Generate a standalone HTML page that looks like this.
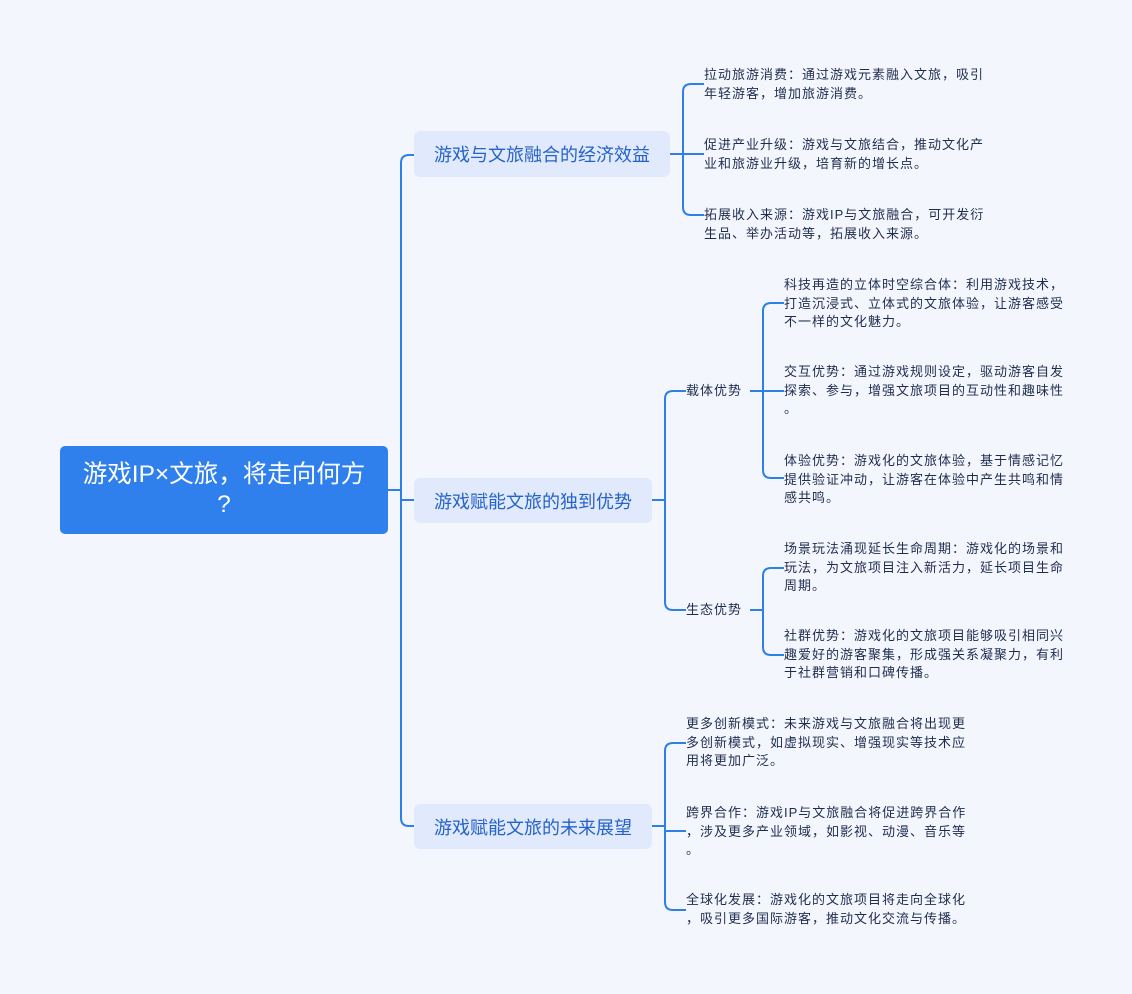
<!DOCTYPE html>
<html><head><meta charset="utf-8"><style>
body{margin:0;width:1132px;height:994px;background:#f4f6fe;position:relative;overflow:hidden;font-family:"Liberation Sans","Noto Sans CJK SC",sans-serif;}
.t{position:absolute;font-size:13px;letter-spacing:1px;line-height:18.7px;color:#1f2d4d;white-space:nowrap;}
.n{position:absolute;background:#e1e9fd;border-radius:6px;color:#2563c9;font-size:18px;display:flex;align-items:center;justify-content:center;}
.root{position:absolute;left:60px;top:446px;width:328px;height:88px;background:#2f80ed;border-radius:5px;color:#fff;font-size:24.5px;line-height:30px;text-align:center;display:flex;align-items:center;justify-content:center;}
svg{position:absolute;left:0;top:0}
</style></head><body>
<svg width="1132" height="994" fill="none" stroke="#2f7fe8" stroke-width="2">
<path d="M388 490H401"/>
<path d="M414 155H409Q401 155 401 163V818Q401 826 409 826H414"/>
<path d="M401 500H414"/>
<path d="M670 154H683"/>
<path d="M704 84H691Q683 84 683 92V207Q683 215 691 215H704"/>
<path d="M683 154H704"/>
<path d="M652 500H665"/>
<path d="M686 391H673Q665 391 665 399V602Q665 610 673 610H686"/>
<path d="M750 391H763"/>
<path d="M784 303H771Q763 303 763 311V470Q763 478 771 478H784"/>
<path d="M763 391H784"/>
<path d="M750 610H763"/>
<path d="M784 568H771Q763 568 763 576V647Q763 655 771 655H784"/>
<path d="M652 826H665"/>
<path d="M686 743H673Q665 743 665 751V902Q665 910 673 910H686"/>
<path d="M665 831H686"/>
</svg>
<div class="root">游戏IP×文旅，将走向何方<br>?</div>
<div class="n" style="left:414px;top:131px;width:256px;height:46px">游戏与文旅融合的经济效益</div>
<div class="n" style="left:414px;top:478px;width:238px;height:45px">游戏赋能文旅的独到优势</div>
<div class="n" style="left:414px;top:804px;width:238px;height:45px">游戏赋能文旅的未来展望</div>
<div class="t" style="left:704px;top:66px">拉动旅游消费：通过游戏元素融入文旅，吸引<br>年轻游客，增加旅游消费。</div>
<div class="t" style="left:704px;top:136px">促进产业升级：游戏与文旅结合，推动文化产<br>业和旅游业升级，培育新的增长点。</div>
<div class="t" style="left:704px;top:206px">拓展收入来源：游戏IP与文旅融合，可开发衍<br>生品、举办活动等，拓展收入来源。</div>
<div class="t" style="left:686px;top:382px">载体优势</div>
<div class="t" style="left:686px;top:601px">生态优势</div>
<div class="t" style="left:784px;top:276px">科技再造的立体时空综合体：利用游戏技术，<br>打造沉浸式、立体式的文旅体验，让游客感受<br>不一样的文化魅力。</div>
<div class="t" style="left:784px;top:363px">交互优势：通过游戏规则设定，驱动游客自发<br>探索、参与，增强文旅项目的互动性和趣味性<br>。</div>
<div class="t" style="left:784px;top:452px">体验优势：游戏化的文旅体验，基于情感记忆<br>提供验证冲动，让游客在体验中产生共鸣和情<br>感共鸣。</div>
<div class="t" style="left:784px;top:540px">场景玩法涌现延长生命周期：游戏化的场景和<br>玩法，为文旅项目注入新活力，延长项目生命<br>周期。</div>
<div class="t" style="left:784px;top:627px">社群优势：游戏化的文旅项目能够吸引相同兴<br>趣爱好的游客聚集，形成强关系凝聚力，有利<br>于社群营销和口碑传播。</div>
<div class="t" style="left:686px;top:715px">更多创新模式：未来游戏与文旅融合将出现更<br>多创新模式，如虚拟现实、增强现实等技术应<br>用将更加广泛。</div>
<div class="t" style="left:686px;top:804px">跨界合作：游戏IP与文旅融合将促进跨界合作<br>，涉及更多产业领域，如影视、动漫、音乐等<br>。</div>
<div class="t" style="left:686px;top:891px">全球化发展：游戏化的文旅项目将走向全球化<br>，吸引更多国际游客，推动文化交流与传播。</div>
</body></html>
